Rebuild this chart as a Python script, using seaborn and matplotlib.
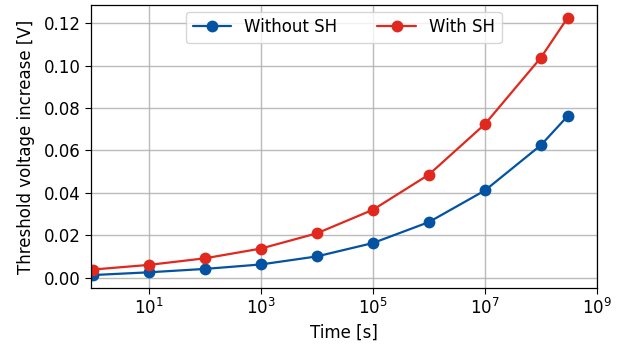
import pandas as pd
import numpy as np
import matplotlib
matplotlib.use("Agg")
import matplotlib.pyplot as plt
import seaborn as sns

time_s = [1, 1e1, 1e2, 1e3, 1e4, 1e5, 1e6, 1e7, 1e8, 3e8]
without_sh = [0.0012, 0.0025, 0.0041, 0.0062, 0.0100, 0.0163, 0.0262, 0.0411, 0.0625, 0.0762]
with_sh = [0.0038, 0.0060, 0.0091, 0.0137, 0.0209, 0.0320, 0.0486, 0.0724, 0.1038, 0.1226]
labels = ["Without SH", "With SH"]
colors = ["#0452a2", "#e0281e"]

df = pd.DataFrame({
    "time": time_s * 2,
    "dvth": without_sh + with_sh,
    "case": [labels[0]] * len(time_s) + [labels[1]] * len(time_s),
})

sns.set_style("white")
plt.rcParams["font.family"] = ["DejaVu Sans"]
plt.rcParams["text.color"] = "black"
plt.rcParams["axes.labelcolor"] = "black"
plt.rcParams["xtick.color"] = "black"
plt.rcParams["ytick.color"] = "black"

fig, ax = plt.subplots(figsize=(6.31, 3.49), dpi=100)
fig.subplots_adjust(left=0.144, right=0.946, top=0.986, bottom=0.175)

sns.lineplot(data=df, x="time", y="dvth", hue="case", palette=colors,
             marker="o", markersize=8.5, markeredgewidth=0, linewidth=1.6, ax=ax)

ax.set_xscale("log")
ax.set_xlim(0.92, 1e9)
ax.set_xticks([1e1, 1e3, 1e5, 1e7, 1e9])
ax.xaxis.set_minor_locator(matplotlib.ticker.NullLocator())
ax.set_yticks(np.arange(0, 0.121, 0.02))
ax.yaxis.set_major_formatter(matplotlib.ticker.FormatStrFormatter("%.2f"))
ax.tick_params(axis="both", labelsize=12, direction="out", length=4, width=0.8,
               left=True, bottom=True, colors="black")

ax.grid(True, which="major", color="#b0b0b0", linewidth=1.0, alpha=0.85)
for sp in ax.spines.values():
    sp.set_color("black")
    sp.set_linewidth(0.9)

ax.set_xlabel("Time [s]", fontsize=12)
ax.set_ylabel("Threshold voltage increase [V]", fontsize=12, labelpad=6)

leg = ax.legend(loc="upper center", ncol=2, fontsize=12, frameon=True, columnspacing=2.4,
                handlelength=2.3, borderaxespad=0.4)
leg.get_frame().set_edgecolor("#cccccc")

plt.savefig("out.png", dpi=100)
